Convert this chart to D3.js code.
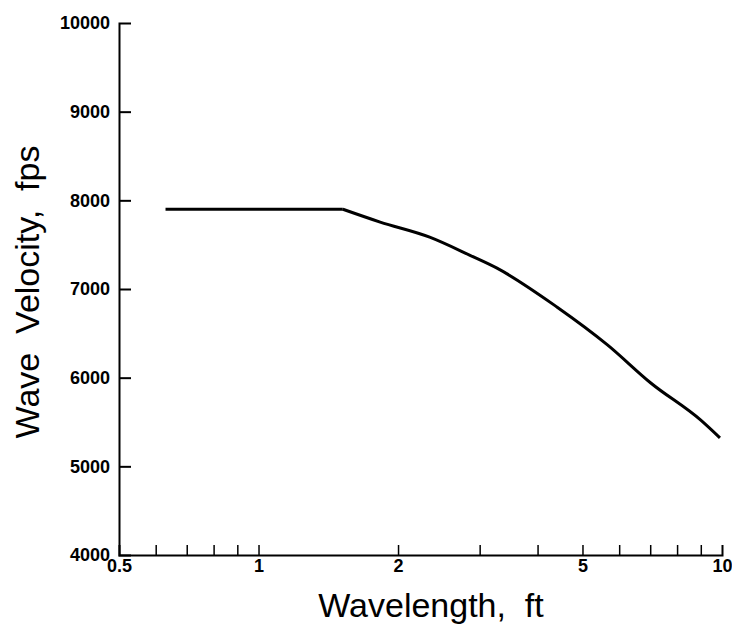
<!DOCTYPE html>
<html>
<head>
<meta charset="utf-8">
<script src="https://cdn.jsdelivr.net/npm/d3@7"></script>
<style>
  body { margin: 0; background: #fff; }
  .tick text { font-family: "Liberation Sans", Arial, sans-serif; font-weight: bold; font-size: 18px; fill: #000; }
  .title { font-family: "Liberation Sans", Arial, sans-serif; font-size: 34px; fill: #000; white-space: pre; }
</style>
</head>
<body>
<div id="chart"></div>
<script>
// curve
var wavelength = [0.63, 1.52, 1.83, 2.34, 2.86, 3.27, 4.41, 5.66, 7.02, 9.0, 9.9];
var velocity   = [7900, 7900, 7755, 7585, 7380, 7235, 6795, 6370, 5940, 5520, 5320];

var yTicks = [4000, 5000, 6000, 7000, 8000, 9000, 10000];
var xTicks = [0.5, 0.6, 0.7, 0.8, 0.9, 1, 2, 3, 4, 5, 6, 7, 8, 9, 10];
var xLabels = [0.5, 1, 2, 5, 10];

var margin = { top: 23, right: 10, bottom: 72, left: 119 },
    width = 722 - margin.left,
    height = 555 - margin.top;

var svg = d3.select("#chart")
    .append("svg")
    .attr("width", 732)
    .attr("height", 627)
    .append("g")
    .attr("transform", "translate(" + margin.left + "," + margin.top + ")");

var x = d3.scaleLog()
    .domain([0.5, 10])
    .range([0, width]);

var y = d3.scaleLinear()
    .domain([4000, 10000])
    .range([height, 0]);

// y axis, ticks pointing inward
var yAxis = svg.append("g")
    .call(d3.axisLeft(y).tickValues(yTicks).tickSize(-12).tickPadding(9).tickFormat(d3.format("d")));
yAxis.select(".domain").attr("stroke-width", 2);
yAxis.selectAll(".tick line").attr("stroke-width", 2);
yAxis.selectAll(".tick").filter(function(d) { return d == 4000 || d == 10000; }).select("line").remove();

// x axis, ticks pointing up
var xAxis = svg.append("g")
    .attr("transform", "translate(0," + height + ")")
    .call(d3.axisBottom(x).tickValues(xTicks).tickSize(-10).tickPadding(4)
        .tickFormat(function(d) { return xLabels.indexOf(d) >= 0 ? d3.format("")(d) : ""; }));
xAxis.select(".domain").attr("stroke-width", 2);
xAxis.selectAll(".tick line").attr("stroke-width", 1.5);
xAxis.selectAll(".tick").filter(function(d) { return d == 0.5 || d == 10; }).select("line").remove();

// the curve: flat plateau, then a smooth fall-off starting at the kink
var pts = wavelength.map(function(w, i) { return [w, velocity[i]]; });

var flat = d3.line()
    .x(function(d) { return x(d[0]); })
    .y(function(d) { return y(d[1]); });

var fall = d3.line()
    .x(function(d) { return x(d[0]); })
    .y(function(d) { return y(d[1]); })
    .curve(d3.curveMonotoneX);

svg.append("path")
    .datum(pts.slice(0, 2))
    .attr("fill", "none")
    .attr("stroke", "#000")
    .attr("stroke-width", 3)
    .attr("d", flat);

svg.append("path")
    .datum(pts.slice(1))
    .attr("fill", "none")
    .attr("stroke", "#000")
    .attr("stroke-width", 3)
    .attr("d", fall);

// axis titles
svg.append("text")
    .attr("class", "title")
    .attr("transform", "translate(-80," + (292 - margin.top) + ") rotate(-90)")
    .attr("text-anchor", "middle")
    .text("Wave  Velocity,  fps");

svg.append("text")
    .attr("class", "title")
    .attr("x", 431 - margin.left)
    .attr("y", 617 - margin.top)
    .attr("text-anchor", "middle")
    .text("Wavelength,  ft");
</script>
</body>
</html>
